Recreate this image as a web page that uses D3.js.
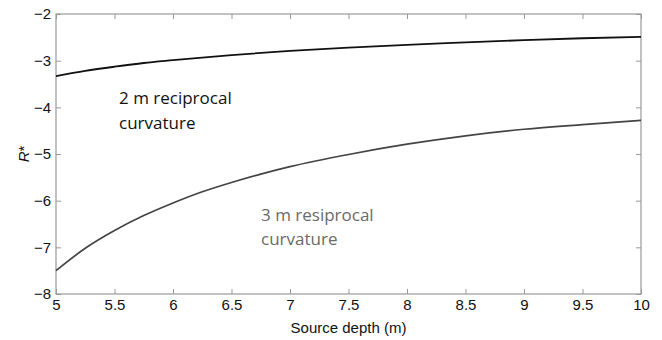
<!DOCTYPE html>
<html><head><meta charset="utf-8">
<script src="https://cdn.jsdelivr.net/npm/d3@7"></script>
<style>body{margin:0;background:#fff}svg{display:block}</style>
</head><body>
<svg id="c" width="662" height="340"></svg>
<script>
const depth2 = [5, 5.25, 5.5, 5.75, 6, 6.5, 7, 7.5, 8, 8.5, 9, 9.5, 10];
const curv2m = [-3.33, -3.22, -3.13, -3.05, -2.99, -2.88, -2.79, -2.72, -2.66, -2.61, -2.56, -2.52, -2.49];
const depth3 = [5, 5.25, 5.5, 5.75, 6, 6.25, 6.5, 6.75, 7, 7.5, 8, 8.5, 9, 9.5, 10];
const curv3m = [-7.50, -7.02, -6.64, -6.32, -6.05, -5.81, -5.61, -5.43, -5.27, -5.01, -4.79, -4.61, -4.47, -4.37, -4.28];
const xTicks = [5, 5.5, 6, 6.5, 7, 7.5, 8, 8.5, 9, 9.5, 10];
const yTicks = [-8, -7, -6, -5, -4, -3, -2];
const label2 = ["2 m reciprocal", "curvature"];
const label3 = ["3 m resiprocal", "curvature"];

const svg = d3.select("#c");
const L = 56, R = 641, T = 14, B = 294;
const x = d3.scaleLinear().domain([5, 10]).range([L, R]);
const y = d3.scaleLinear().domain([-8, -2]).range([B, T]);
const frame = "#999";
const font = "'Liberation Sans', Arial, sans-serif";

function styleAxis(g) {
  g.select(".domain").remove();
  g.selectAll(".tick line").attr("stroke", frame);
  g.selectAll(".tick text").attr("fill", "#111").attr("font-family", font).attr("font-size", 15);
}
const fmt = d => (d < 0 ? "\u2212" + Math.abs(d) : String(d));

svg.append("g").attr("transform", `translate(0,${B})`)
  .call(d3.axisBottom(x).tickValues(xTicks).tickSize(-5).tickPadding(5).tickFormat(d => String(d)))
  .call(styleAxis);
svg.append("g").attr("transform", `translate(0,${T})`)
  .call(d3.axisTop(x).tickValues(xTicks).tickSize(-5).tickFormat(""))
  .call(styleAxis);
svg.append("g").attr("transform", `translate(${L},0)`)
  .call(d3.axisLeft(y).tickValues(yTicks).tickSize(-5).tickPadding(5).tickFormat(fmt))
  .call(styleAxis);
svg.append("g").attr("transform", `translate(${R},0)`)
  .call(d3.axisRight(y).tickValues(yTicks).tickSize(-5).tickFormat(""))
  .call(styleAxis);

svg.append("rect").attr("x", L).attr("y", T).attr("width", R - L).attr("height", B - T)
  .attr("fill", "none").attr("stroke", frame).attr("stroke-width", 1.2);

const line = d3.line().x(d => x(d[0])).y(d => y(d[1])).curve(d3.curveMonotoneX);
svg.append("path").datum(depth3.map((d, i) => [d, curv3m[i]]))
  .attr("d", line).attr("fill", "none").attr("stroke", "#444").attr("stroke-width", 1.7);
svg.append("path").datum(depth2.map((d, i) => [d, curv2m[i]]))
  .attr("d", line).attr("fill", "none").attr("stroke", "#111").attr("stroke-width", 1.8);

const tf = "'Open Sans', 'Noto Sans', sans-serif";
label2.forEach((t, i) => svg.append("text").attr("x", 119).attr("y", 104 + i * 25)
  .attr("font-family", tf).attr("font-size", 17).attr("fill", "#111").text(t));
label3.forEach((t, i) => svg.append("text").attr("x", 261).attr("y", 221 + i * 24)
  .attr("font-family", tf).attr("font-size", 17).attr("fill", "#6a6a6a").text(t));

svg.append("text").attr("x", (L + R) / 2).attr("y", 333).attr("text-anchor", "middle")
  .attr("font-family", font).attr("font-size", 15).attr("fill", "#111").text("Source depth (m)");
const yl = svg.append("text").attr("transform", `translate(29,${(T + B) / 2}) rotate(-90)`)
  .attr("text-anchor", "middle").attr("font-family", font).attr("font-size", 15).attr("fill", "#111");
yl.append("tspan").attr("font-style", "italic").text("R");
yl.append("tspan").text("*");
</script>
</body></html>
